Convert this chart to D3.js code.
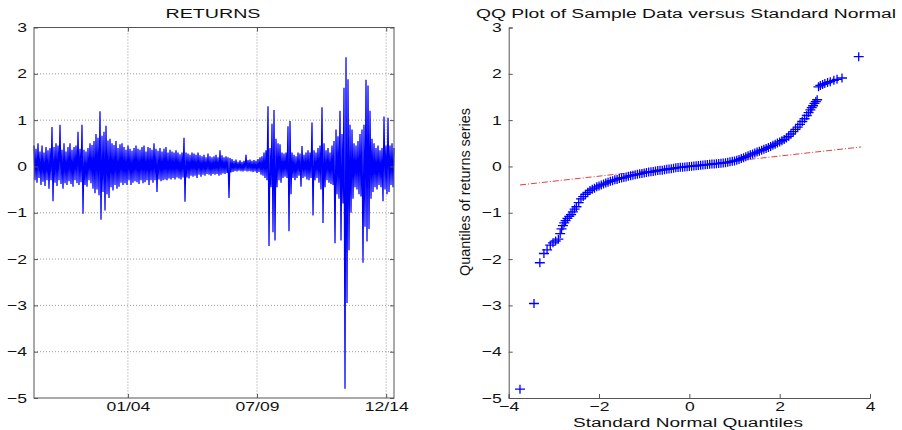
<!DOCTYPE html>
<html>
<head>
<meta charset="utf-8">
<script src="https://cdn.jsdelivr.net/npm/d3@7"></script>
<style>
body { margin: 0; background: #fff; }
text { font-family: "Liberation Sans", Arial, sans-serif; fill: #111; }
</style>
</head>
<body>
<svg id="chart" width="902" height="430"></svg>
<script>
// daily returns (one value per screen column, Jan 2000 - Apr 2015)
const returns = [
  0.45,-0.3,0.38,-0.35,0.5,-0.25,0.32,-0.4,0.45,-0.33,
  0.3,-0.42,0.42,-0.3,0.35,-0.48,0.4,-0.3,0.85,-0.75,
  0.42,-0.35,0.5,-0.42,0.45,-0.3,0.9,-0.38,0.36,-0.48,
  0.5,-0.36,0.32,-0.4,0.42,-0.32,0.5,-0.38,0.36,-0.44,
  0.42,-0.3,0.45,-0.36,0.75,-0.4,0.38,-0.34,0.9,-1.02,
  0.36,-0.4,0.32,-0.44,0.4,-0.3,0.5,-0.36,0.46,-0.48,
  0.55,-0.58,0.7,-0.5,0.62,-0.62,1.19,-1.15,0.66,-0.55,
  0.75,-0.95,0.88,-0.6,0.56,-0.68,0.6,-0.45,0.5,-0.52,
  0.46,-0.4,0.55,-0.48,0.4,-0.44,0.48,-0.35,0.5,-0.4,
  0.42,-0.36,0.36,-0.4,0.45,-0.3,0.38,-0.4,0.34,-0.35,
  0.4,-0.32,0.45,-0.34,0.38,-0.38,0.36,-0.3,0.42,-0.36,
  0.45,-0.34,0.32,-0.3,0.42,-0.4,0.4,-0.3,0.36,-0.35,
  0.5,-0.3,0.38,-0.55,0.34,-0.28,0.4,-0.32,0.32,-0.3,
  0.38,-0.28,0.42,-0.3,0.3,-0.26,0.36,-0.28,0.32,-0.25,
  0.3,-0.28,0.35,-0.24,0.3,-0.26,0.26,-0.28,0.3,-0.24,
  0.62,-0.76,0.3,-0.24,0.28,-0.26,0.25,-0.2,0.3,-0.22,
  0.28,-0.2,0.25,-0.25,0.3,-0.18,0.24,-0.22,0.22,-0.18,
  0.25,-0.2,0.2,-0.16,0.28,-0.18,0.22,-0.2,0.2,-0.16,
  0.22,-0.18,0.25,-0.16,0.2,-0.2,0.35,-0.18,0.24,-0.15,
  0.2,-0.16,0.22,-0.14,0.2,-0.68,0.18,-0.13,0.16,-0.12,
  0.12,-0.1,0.15,-0.11,0.1,-0.09,0.13,-0.1,0.1,-0.11,
  0.12,-0.09,0.25,-0.11,0.14,-0.1,0.15,-0.11,0.12,-0.12,
  0.14,-0.11,0.12,-0.14,0.16,-0.12,0.2,-0.18,0.22,-0.2,
  0.3,-0.25,0.35,-0.3,1.3,-1.72,0.4,-0.45,0.92,-1.42,
  1.22,-1.6,0.6,-0.45,0.5,-0.3,0.48,-0.35,0.3,-0.25,
  0.28,-0.22,0.3,-0.25,0.87,-1.4,0.98,-0.6,0.3,-0.25,
  0.25,-0.3,0.22,-0.25,0.3,-0.2,0.28,-0.44,0.44,-0.25,
  0.25,-0.22,0.3,-0.28,0.35,-0.3,0.3,-0.25,0.95,-1.06,
  0.35,-0.3,0.3,-0.25,0.4,-0.35,0.45,-0.5,1.28,-1.22,
  0.5,-0.45,0.35,-0.3,0.4,-0.35,0.3,-0.38,0.45,-0.4,
  0.55,-1.66,0.8,-0.6,0.65,-0.7,1.2,-1.6,0.7,-0.8,
  1.7,-4.8,2.36,-2.95,1.88,-1.81,0.9,-1.0,0.8,-0.7,
  0.5,-0.45,0.45,-0.5,0.55,-0.6,0.7,-0.65,0.8,-2.08,
  0.9,-1.3,1.87,-1.62,1.75,-1.35,1.2,-0.7,0.6,-0.55,
  0.5,-0.45,0.4,-0.5,0.45,-0.4,0.35,-0.45,0.4,-0.75,
  1.08,-0.5,0.45,-0.6,1.05,-0.55,0.45,-0.4,0.5,-0.45,
  0.4
];
const startDate = new Date(2000, 0, 3);
const endDate = new Date(2015, 4, 1);
const dateTicks = [new Date(2004, 0, 2), new Date(2009, 6, 1), new Date(2014, 11, 31)];
const yTicks = [-5, -4, -3, -2, -1, 0, 1, 2, 3];

// QQ plot: theoretical normal quantile vs sample quantile
const qqTheo = [
  -3.75,-3.44,-3.31,-3.22,-3.15,-3.08,-3.02,-2.96,-2.9,-2.86,-2.83,-2.8,-2.77,-2.74,-2.7,-2.66,-2.62,-2.58,-2.54,-2.5,-2.45,
  -2.4,-2.35,-2.3,-2.25,-2.2,-2.15,-2.1,-2.05,-2.0,-1.95,-1.9,-1.85,-1.8,-1.75,-1.7,-1.65,-1.6,-1.55,-1.5,-1.45,
  -1.4,-1.35,-1.3,-1.25,-1.2,-1.15,-1.1,-1.05,-1.0,-0.95,-0.9,-0.85,-0.8,-0.75,-0.7,-0.65,-0.6,-0.55,-0.5,-0.45,
  -0.4,-0.35,-0.3,-0.25,-0.2,-0.15,-0.1,-0.05,0,0.05,0.1,0.15,0.2,0.25,0.3,0.35,0.4,0.45,0.5,0.55,
  0.6,0.65,0.7,0.75,0.8,0.85,0.9,0.95,1.0,1.05,1.1,1.15,1.2,1.25,1.3,1.35,1.4,1.45,1.5,1.55,
  1.6,1.65,1.7,1.75,1.8,1.85,1.9,1.95,2.0,2.05,2.1,2.15,2.2,2.25,2.3,2.35,2.4,
  2.45,2.5,2.55,2.6,2.64,2.68,2.71,2.74,2.77,2.8,2.83,2.86,2.9,2.95,3.0,3.06,3.12,3.2,3.27,3.38,3.75
];
const qqSample = [
  -4.81,-2.96,-2.08,-1.88,-1.8,-1.7,-1.65,-1.61,-1.57,-1.45,-1.35,-1.28,-1.22,-1.17,-1.12,-1.08,-1.04,-0.98,-0.92,-0.87,-0.78,
  -0.7,-0.65,-0.6,-0.56,-0.52,-0.49,-0.47,-0.44,-0.42,-0.4,-0.38,-0.36,-0.34,-0.32,-0.31,-0.29,-0.28,-0.26,-0.25,-0.24,
  -0.23,-0.21,-0.2,-0.19,-0.18,-0.17,-0.16,-0.15,-0.14,-0.13,-0.12,-0.115,-0.11,-0.1,-0.09,-0.085,-0.08,-0.07,-0.06,-0.055,
  -0.05,-0.04,-0.03,-0.025,-0.02,-0.015,-0.01,-0.005,0,0.005,0.01,0.015,0.02,0.025,0.03,0.035,0.04,0.045,0.05,0.055,
  0.06,0.065,0.07,0.075,0.08,0.09,0.1,0.11,0.12,0.135,0.15,0.17,0.19,0.21,0.23,0.25,0.27,0.29,0.31,0.33,
  0.35,0.37,0.39,0.41,0.43,0.455,0.48,0.505,0.53,0.555,0.58,0.615,0.65,0.7,0.75,0.8,0.85,
  0.91,0.97,1.03,1.1,1.16,1.22,1.27,1.31,1.36,1.4,1.44,1.72,1.75,1.77,1.79,1.81,1.83,1.86,1.88,1.91,2.37
];
// robust reference line (first to third quartile, extended)
const refX = [-3.75, 3.8];
const refY = [-0.40, 0.42];
const qqXTicks = [-4, -2, 0, 2, 4];

const svg = d3.select("#chart");
const axisColor = "#555";
const hStretch = 1.35; // the picture's text is widened
const fontSize = 13;

function stretch(sel, k) {
  sel.each(function () {
    const w = this.getComputedTextLength();
    d3.select(this).attr("textLength", w * k).attr("lengthAdjust", "spacingAndGlyphs");
  });
}

// ---------- left panel: RETURNS ----------
const L = { left: 34, right: 394, top: 27.5, bottom: 398 };
const x = d3.scaleTime().domain([startDate, endDate]).range([L.left, L.right]);
const y = d3.scaleLinear().domain([-5, 3]).range([L.bottom, L.top]);
const step = (endDate - startDate) / (returns.length - 1);
const series = returns.map((v, i) => ({ date: new Date(+startDate + i * step), value: v }));

const left = svg.append("g");

left.append("g").selectAll("line")
  .data(yTicks.filter(t => t > -5 && t < 3))
  .join("line")
  .attr("x1", L.left).attr("x2", L.right)
  .attr("y1", d => y(d)).attr("y2", d => y(d))
  .attr("stroke", "#999").attr("stroke-dasharray", "1,2");

left.append("g").selectAll("line")
  .data(dateTicks)
  .join("line")
  .attr("x1", d => x(d)).attr("x2", d => x(d))
  .attr("y1", L.top).attr("y2", L.bottom)
  .attr("stroke", "#999").attr("stroke-dasharray", "1,2");

left.append("path")
  .datum(series)
  .attr("fill", "none")
  .attr("stroke", "#0000ff")
  .attr("stroke-width", 1.25)
  .attr("d", d3.line().x(d => x(d.date)).y(d => y(d.value)));

left.append("rect")
  .attr("x", L.left).attr("y", L.top)
  .attr("width", L.right - L.left).attr("height", L.bottom - L.top)
  .attr("fill", "none").attr("stroke", axisColor);

const yAxisL = left.append("g")
  .attr("transform", `translate(${L.left},0)`)
  .call(d3.axisLeft(y).tickValues(yTicks).tickSize(-4).tickPadding(7));
const yAxisR = left.append("g")
  .attr("transform", `translate(${L.right},0)`)
  .call(d3.axisRight(y).tickValues(yTicks).tickSize(-4).tickFormat(""));
const xAxisB = left.append("g")
  .attr("transform", `translate(0,${L.bottom})`)
  .call(d3.axisBottom(x).tickValues(dateTicks).tickSize(-4).tickPadding(4).tickFormat(d3.timeFormat("%m/%y")));
const xAxisT = left.append("g")
  .attr("transform", `translate(0,${L.top})`)
  .call(d3.axisTop(x).tickValues(dateTicks).tickSize(-4).tickFormat(""));

[yAxisL, yAxisR, xAxisB, xAxisT].forEach(a => {
  a.select(".domain").remove();
  a.selectAll(".tick line").attr("stroke", axisColor);
  a.selectAll("text").attr("font-size", fontSize).attr("font-family", "Liberation Sans, Arial, sans-serif").attr("fill", "#111");
});

left.append("text")
  .attr("x", 213).attr("y", 17.5)
  .attr("text-anchor", "middle")
  .attr("font-size", 12)
  .attr("textLength", 95).attr("lengthAdjust", "spacingAndGlyphs")
  .text("RETURNS");

// ---------- right panel: QQ plot ----------
const R = { left: 508.7, right: 870, top: 27.5, bottom: 398 };
const qx = d3.scaleLinear().domain([-4, 4]).range([R.left, R.right]);
const qy = d3.scaleLinear().domain([-5, 3]).range([R.bottom, R.top]);

const right = svg.append("g");

right.append("line")
  .attr("x1", qx(refX[0])).attr("x2", qx(refX[1]))
  .attr("y1", qy(refY[0])).attr("y2", qy(refY[1]))
  .attr("stroke", "#e04040").attr("stroke-width", 1)
  .attr("stroke-dasharray", "6,2,1,2");

right.append("g").selectAll("path")
  .data(qqTheo.map((t, i) => [t, qqSample[i]]))
  .join("path")
  .attr("transform", d => `translate(${qx(d[0])},${qy(d[1])})`)
  .attr("d", "M-5,0H5M0,-4.5V4.5")
  .attr("stroke", "#0000ff")
  .attr("stroke-width", 1.3)
  .attr("fill", "none");

const qyAxis = right.append("g")
  .attr("transform", `translate(${R.left},0)`)
  .call(d3.axisLeft(qy).tickValues(yTicks).tickSize(-4).tickPadding(7));
const qxAxis = right.append("g")
  .attr("transform", `translate(0,${R.bottom})`)
  .call(d3.axisBottom(qx).tickValues(qqXTicks).tickSize(-4).tickPadding(4));

[qyAxis, qxAxis].forEach(a => {
  a.select(".domain").attr("stroke", axisColor);
  a.selectAll(".tick line").attr("stroke", axisColor);
  a.selectAll("text").attr("font-size", fontSize).attr("font-family", "Liberation Sans, Arial, sans-serif").attr("fill", "#111");
});

right.append("text")
  .attr("x", 686).attr("y", 17.5)
  .attr("text-anchor", "middle")
  .attr("font-size", 12)
  .attr("textLength", 420).attr("lengthAdjust", "spacingAndGlyphs")
  .text("QQ Plot of Sample Data versus Standard Normal");

right.append("text")
  .attr("x", 688).attr("y", 426.5)
  .attr("text-anchor", "middle")
  .attr("font-size", 12.5)
  .attr("textLength", 230).attr("lengthAdjust", "spacingAndGlyphs")
  .text("Standard Normal Quantiles");

right.append("text")
  .attr("transform", "translate(470,192) rotate(-90)")
  .attr("text-anchor", "middle")
  .attr("font-size", 14)
  .attr("textLength", 168)
  .attr("lengthAdjust", "spacingAndGlyphs")
  .text("Quantiles of returns series");

// widen the tick labels like in the picture
stretch(svg.selectAll(".tick text"), hStretch);
</script>
</body>
</html>
